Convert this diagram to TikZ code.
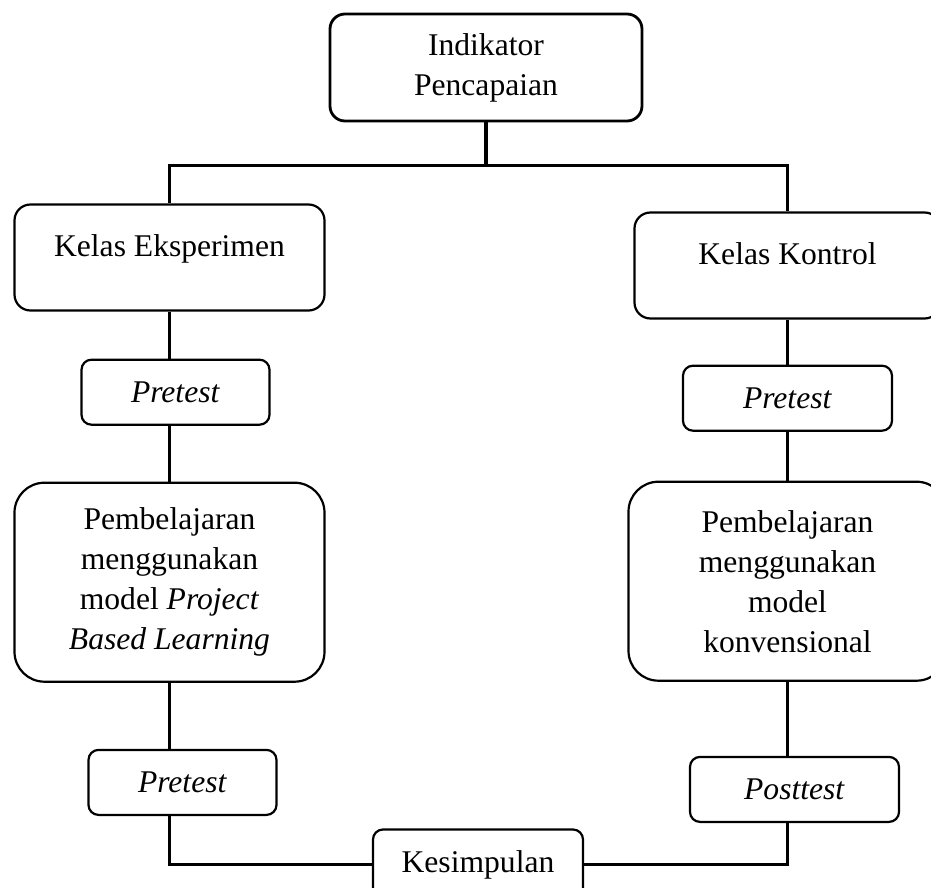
\documentclass[tikz,border=0pt]{standalone}
\usepackage{fontspec}
\setmainfont{Liberation Serif}
\usetikzlibrary{positioning}

\begin{document}
\begin{tikzpicture}
	[font=\fontsize{15.8}{20}\selectfont,
	kotak/.style={rectangle,draw=black,line width=1.1pt,align=center,inner sep=0pt},
	kepala/.style={kotak,rounded corners=7.5pt,line width=1.4pt,minimum width=156pt,minimum height=53.5pt},
	kelas/.style={kotak,rounded corners=8pt,minimum height=53pt,text height=11pt,text depth=12pt},
	tes/.style={kotak,rounded corners=5pt,minimum height=32.5pt},
	ajar/.style={kotak,rounded corners=15pt,minimum height=99.5pt},
	garis/.style={line width=1.8pt}]
	\useasboundingbox (-243pt,33.75pt) rectangle (222.5pt,-410.25pt);

	\node [kepala] (ind) {Indikator\\Pencapaian};
	\coordinate [below=21.5pt of ind.south] (cabang);

	\node [kelas, minimum width=155pt] (k1) [below left=40.5pt and 1.5pt of ind]{Kelas Eksperimen};
	\node [tes, minimum width=94pt] (t1) [below=23.5pt of k1, xshift=3pt]{\textit{Pretest}};
	\node [ajar, minimum width=155pt] (b1) [below=85pt of k1]{Pembelajaran\\menggunakan\\model \textit{Project}\\\textit{Based Learning}};
	\node [tes, minimum width=94pt] (t3) [below=33pt of b1, xshift=6.5pt]{\textit{Pretest}};

	\node [kelas, minimum width=153pt] (k2) [below right=44.5pt and -5pt of ind]{Kelas Kontrol};
	\node [tes, minimum width=104.5pt] (t2) [below=22.5pt of k2]{\textit{Pretest}};
	\node [ajar, minimum width=159pt] (b2) [below=80.5pt of k2]{Pembelajaran\\menggunakan\\model\\konvensional};
	\node [tes, minimum width=104.5pt] (t4) [below=37pt of b2, xshift=3.5pt]{\textit{Posttest}};

	\node [tes, rounded corners=5pt, minimum width=105pt, minimum height=35pt] (kes) [below=353pt of ind, xshift=-4pt]{Kesimpulan};

	\draw [garis] (ind) -- (cabang);
	\draw [garis] (k1) |- (cabang) -| (k2);

	\draw [garis] (k1) -- (k1 |- t1.north);
	\draw [garis] (t1.south -| k1) -- (b1);
	\draw [garis] (b1) -- (b1 |- t3.north);
	\draw [garis] (t3.south -| b1) |- (kes);

	\draw [garis] (k2) -- (t2);
	\draw [garis] (t2) -- (b2);
	\draw [garis] (b2) -- (b2 |- t4.north);
	\draw [garis] (t4.south -| b2) |- (kes);
\end{tikzpicture}
\end{document}
